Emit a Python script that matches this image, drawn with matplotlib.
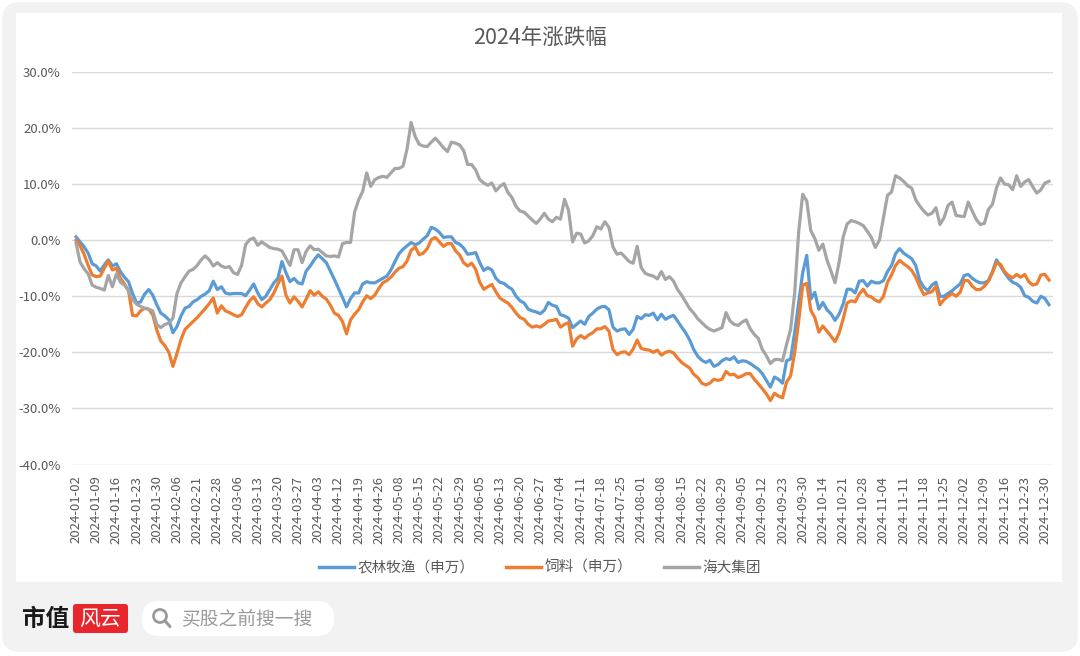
import matplotlib
matplotlib.use("Agg")
import matplotlib.pyplot as plt
from matplotlib.patches import FancyBboxPatch, Rectangle, Circle
from matplotlib.lines import Line2D
import numpy as np

plt.rcParams['font.family'] = ['Noto Sans CJK SC', 'DejaVu Sans']

title = "2024年涨跌幅"
series_names = ["农林牧渔（申万）", "饲料（申万）", "海大集团"]
colors = ["#5B9BD5", "#ED7D31", "#A5A5A5"]

tick_labels = [
    "2024-01-02", "2024-01-09", "2024-01-16", "2024-01-23", "2024-01-30", "2024-02-06",
    "2024-02-21", "2024-02-28", "2024-03-06", "2024-03-13", "2024-03-20", "2024-03-27",
    "2024-04-03", "2024-04-12", "2024-04-19", "2024-04-26", "2024-05-08", "2024-05-15",
    "2024-05-22", "2024-05-29", "2024-06-05", "2024-06-13", "2024-06-20", "2024-06-27",
    "2024-07-04", "2024-07-11", "2024-07-18", "2024-07-25", "2024-08-01", "2024-08-08",
    "2024-08-15", "2024-08-22", "2024-08-29", "2024-09-05", "2024-09-12", "2024-09-23",
    "2024-09-30", "2024-10-14", "2024-10-21", "2024-10-28", "2024-11-04", "2024-11-11",
    "2024-11-18", "2024-11-25", "2024-12-02", "2024-12-09", "2024-12-16", "2024-12-23",
    "2024-12-30",
]
tick_every = 5  # one label every 5 trading days

# daily change since 2024-01-02 (%), one value per trading day
agri = [
    0.6, -0.3, -1.2, -2.3, -4.2, -4.6, -5.5, -4.4, -3.5, -4.6,
    -4.2, -5.6, -6.6, -7.4, -9.5, -11.2, -11.0, -9.6, -8.8, -9.8,
    -11.5, -13.0, -13.5, -14.2, -16.5, -15.4, -13.5, -12.1, -11.8, -11.0,
    -10.6, -10.0, -9.6, -9.0, -7.3, -8.8, -8.3, -9.4, -9.6, -9.5,
    -9.5, -9.5, -9.9, -8.9, -7.8, -9.4, -10.6, -10.0, -8.8, -7.6,
    -6.8, -3.8, -5.8, -7.4, -6.8, -7.6, -7.8, -5.5, -4.6, -3.5,
    -2.6, -3.3, -4.0, -5.5, -7.0, -8.6, -10.2, -11.9, -10.4, -9.4,
    -9.4, -7.8, -7.4, -7.6, -7.6, -7.2, -6.8, -6.4, -5.3, -3.8,
    -2.4, -1.6, -1.0, -0.4, -0.8, -0.5, 0.2, 0.8, 2.3, 2.0,
    1.4, 0.5, 0.6, 0.6, -0.4, -0.7, -1.4, -2.5, -2.4, -2.2,
    -4.0, -5.4, -4.9, -5.3, -6.8, -7.5, -7.7, -8.3, -8.75, -10.0,
    -10.8, -11.2, -12.3, -12.6, -12.8, -13.1, -12.5, -11.1, -11.6, -11.8,
    -13.3, -13.5, -13.9, -15.6, -15.0, -14.4, -15.0, -13.6, -13.0, -12.3,
    -11.9, -11.8, -12.4, -15.5, -16.2, -15.9, -15.8, -16.8, -15.9, -13.6,
    -14.0, -13.3, -13.4, -13.0, -14.2, -13.2, -14.1, -13.7, -13.4, -14.4,
    -15.5, -16.5, -17.8, -19.5, -20.7, -21.4, -21.8, -21.4, -22.5, -22.2,
    -21.5, -21.1, -21.3, -20.8, -21.8, -21.5, -21.6, -22.0, -22.5, -23.0,
    -23.8, -25.0, -26.2, -24.4, -24.8, -25.5, -21.5, -21.2, -16.5, -11.1,
    -5.8, -2.7, -10.5, -9.3, -12.3, -11.1, -12.4, -13.1, -14.3, -13.2,
    -11.4, -8.75, -8.75, -9.4, -7.3, -7.2, -8.2, -7.3, -7.6, -7.6,
    -7.2, -5.6, -4.5, -2.4, -1.5, -2.3, -2.8, -3.3, -4.5, -7.2,
    -8.4, -9.0, -8.0, -7.5, -10.0, -10.0, -9.5, -9.0, -8.4, -7.8,
    -6.3, -6.1, -6.8, -7.3, -7.6, -7.6, -7.2, -5.6, -3.5, -4.6,
    -5.8, -6.8, -7.5, -7.8, -8.4, -9.9, -10.2, -10.9, -11.2, -10.0,
    -10.4, -11.5,
]

feed = [
    0.0, -1.0, -2.5, -4.5, -6.2, -6.5, -6.4, -5.0, -3.75, -5.3,
    -5.0, -6.8, -7.8, -9.0, -13.4, -13.5, -12.6, -12.1, -12.3, -13.3,
    -16.0, -18.0, -18.8, -20.0, -22.5, -20.2, -17.7, -15.9, -15.2, -14.5,
    -13.8, -13.0, -12.2, -11.3, -10.3, -13.0, -11.7, -12.6, -12.9, -13.3,
    -13.6, -13.3, -12.0, -10.8, -10.1, -11.3, -11.9, -11.2, -10.6, -9.4,
    -7.8, -6.4, -9.8, -11.2, -10.1, -10.9, -11.9, -10.5, -9.0, -9.8,
    -9.2, -10.0, -10.5, -11.6, -13.0, -13.4, -14.5, -16.7, -14.2, -13.2,
    -12.4, -11.0, -9.9, -10.4, -9.8, -8.6, -7.6, -7.2, -6.6, -5.7,
    -5.0, -4.7, -3.7, -1.8, -1.2, -2.6, -2.3, -1.5, 0.1, 0.5,
    -0.3, -1.1, -0.6, -0.6, -1.9, -2.6, -4.0, -4.6, -4.1, -5.2,
    -7.5, -8.75, -8.3, -7.9, -9.2, -10.3, -10.8, -11.2, -12.0, -13.0,
    -13.8, -14.1, -15.0, -15.5, -15.3, -15.5, -15.0, -14.4, -14.3, -14.1,
    -15.5, -15.0, -14.7, -18.9, -17.6, -17.0, -17.5, -16.9, -16.5, -15.8,
    -15.8, -15.4, -16.2, -19.5, -20.4, -20.0, -19.9, -20.4, -19.4, -17.8,
    -19.3, -19.5, -19.6, -20.0, -19.6, -20.5, -20.0, -19.8, -20.1, -21.0,
    -21.8, -22.3, -22.8, -23.9, -24.5, -25.5, -25.8, -25.5, -24.8, -25.0,
    -24.8, -23.4, -24.0, -23.9, -24.5, -24.2, -23.8, -23.8, -24.8, -25.6,
    -26.5, -27.4, -28.6, -27.3, -27.8, -28.1, -25.3, -24.2, -20.1, -14.5,
    -8.0, -7.7, -12.5, -13.8, -16.4, -15.3, -16.2, -17.1, -18.1, -16.6,
    -14.1, -11.2, -10.8, -11.0, -9.6, -8.75, -9.9, -10.1, -10.7, -11.0,
    -10.0, -7.5, -6.2, -4.5, -3.6, -4.2, -4.7, -5.4, -6.6, -8.3,
    -9.7, -9.4, -9.2, -8.2, -11.5, -10.6, -10.0, -9.5, -10.0, -9.3,
    -7.2, -7.2, -8.2, -8.8, -8.8, -8.2, -7.3, -5.8, -4.0, -4.3,
    -5.6, -6.3, -6.7, -6.1, -6.6, -6.1, -7.4, -8.0, -7.8, -6.2,
    -6.1, -7.1,
]

haida = [
    -0.5, -3.9, -5.1, -6.0, -8.0, -8.4, -8.6, -8.9, -6.3, -8.3,
    -6.0, -7.5, -8.0, -9.0, -10.6, -11.4, -11.8, -12.2, -12.3, -12.6,
    -15.0, -15.6, -15.0, -14.8, -13.9, -9.5, -7.6, -6.5, -5.5, -5.2,
    -4.5, -3.5, -2.8, -3.5, -4.6, -4.0, -4.6, -4.9, -4.7, -5.8,
    -6.1, -4.5, -0.8, 0.1, 0.4, -0.9, -0.3, -0.8, -1.3, -1.5,
    -1.6, -1.9, -3.2, -4.5, -1.7, -1.7, -4.0, -2.0, -1.0, -1.7,
    -1.6, -2.2, -2.8, -2.9, -2.8, -3.0, -0.6, -0.4, -0.4, 5.0,
    7.2, 8.7, 12.0, 9.6, 10.8, 11.2, 11.4, 11.2, 12.0, 12.8,
    12.8, 13.2, 16.3, 21.0, 18.5, 17.1, 16.8, 16.7, 17.5, 18.2,
    17.4, 16.5, 15.8, 17.5, 17.3, 17.0, 16.0, 13.5, 13.5, 12.5,
    10.8, 10.2, 9.8, 10.2, 8.8, 9.6, 10.1, 8.5, 7.6, 6.0,
    5.2, 5.0, 4.3, 3.6, 3.0, 3.8, 4.8, 3.75, 3.3, 4.1,
    3.75, 7.3, 5.3, -0.3, 1.25, 1.1, -0.5, -0.1, 0.8, 2.4,
    2.0, 3.3, 2.3, -1.2, -2.5, -2.3, -3.0, -3.8, -4.1, -1.1,
    -4.9, -5.9, -6.2, -6.4, -6.9, -5.6, -7.0, -6.5, -7.3, -8.8,
    -9.8, -11.0, -12.2, -13.0, -14.0, -14.7, -15.4, -15.9, -16.2, -15.9,
    -15.6, -12.9, -14.4, -15.0, -15.2, -14.6, -14.2, -15.8, -16.8, -17.5,
    -19.5, -20.6, -22.0, -21.3, -21.25, -21.5, -18.6, -15.9, -9.5, 1.5,
    8.2, 7.0, 1.7, 0.3, -1.8, -0.7, -3.5, -5.5, -7.6, -4.0,
    0.5, 2.9, 3.5, 3.3, 3.0, 2.6, 1.6, 0.5, -1.3, 0.0,
    4.0, 8.0, 8.6, 11.5, 11.1, 10.5, 9.7, 9.3, 7.2, 6.1,
    5.2, 4.5, 4.8, 5.8, 2.8, 4.0, 6.2, 6.8, 4.4, 4.3,
    4.2, 6.8, 5.2, 3.7, 2.8, 3.0, 5.5, 6.4, 9.3, 11.1,
    10.0, 9.9, 9.0, 11.5, 9.6, 10.4, 10.8, 9.5, 8.4, 9.0,
    10.2, 10.5,
]

yticks = [30, 20, 10, 0, -10, -20, -30, -40]

W, H = 1080, 656
fig = plt.figure(figsize=(W / 100, H / 100), dpi=100)
fig.patch.set_facecolor("white")

# background layer in pixel coordinates
bg = fig.add_axes([0, 0, 1, 1], zorder=-5)
bg.set_xlim(0, W)
bg.set_ylim(H, 0)
bg.axis("off")
bg.add_patch(FancyBboxPatch((2, 2), W - 4, H - 6, boxstyle="round,pad=0,rounding_size=18",
                            facecolor="#f2f2f2", edgecolor="none"))
bg.add_patch(Rectangle((16, 13), 1046, 569, facecolor="white", edgecolor="none"))

# footer
bg.text(22, 619, "市值", fontsize=17, fontweight="bold", color="#1a1a1a", va="center", ha="left")
bg.add_patch(FancyBboxPatch((73, 604), 55, 29, boxstyle="round,pad=0,rounding_size=3",
                            facecolor="#e8262b", edgecolor="none"))
bg.text(100, 618.5, "风云", fontsize=15, color="white", va="center", ha="center", style="italic")
bg.add_patch(FancyBboxPatch((142, 601), 192, 35, boxstyle="round,pad=0,rounding_size=17",
                            facecolor="white", edgecolor="none"))
bg.add_patch(Circle((160, 616), 6.5, facecolor="none", edgecolor="#9a9a9a", lw=2.0))
bg.plot([165, 170], [621, 626.5], color="#9a9a9a", lw=2.2, solid_capstyle="round")
bg.text(181, 618.5, "买股之前搜一搜", fontsize=13.5, color="#9a9a9a", va="center", ha="left")

# title
fig.text(540 / W, 1 - 38 / H, title, fontsize=15.5, color="#595959", ha="center", va="center")

# main chart
y_top, y_bot = 72, 464.5
ax = fig.add_axes([72 / W, 1 - y_bot / H, (1053 - 72) / W, (y_bot - y_top) / H])
ax.set_facecolor("white")
x = np.arange(len(agri))
for vals, c, name in zip([agri, feed, haida], colors, series_names):
    ax.plot(x, vals, color=c, lw=2.3, label=name, solid_joinstyle="round")

ax.set_xlim(-1, len(agri))
ax.set_ylim(-40, 30)
ax.set_yticks(yticks)
ax.set_yticklabels([f"{v:.1f}%" for v in yticks])
ax.set_xticks(np.arange(len(tick_labels)) * tick_every)
ax.set_xticklabels(tick_labels, rotation=90)
ax.tick_params(axis="both", length=0, labelsize=9.5, labelcolor="#595959")
ax.tick_params(axis="y", pad=8)
ax.tick_params(axis="x", pad=8)
ax.grid(axis="y", color="#d9d9d9", lw=1)
ax.set_axisbelow(True)
for s in ax.spines.values():
    s.set_visible(False)

handles = [Line2D([0], [0], color=c, lw=2.5) for c in colors]
leg = fig.legend(handles, series_names, loc="center", bbox_to_anchor=(540 / W, 1 - 568 / H),
                 ncol=3, frameon=False, fontsize=10.5, handlelength=2.4, handletextpad=0.2,
                 columnspacing=2.2)
for t in leg.get_texts():
    t.set_color("#595959")

fig.savefig("out.png", dpi=100, facecolor=fig.get_facecolor())
